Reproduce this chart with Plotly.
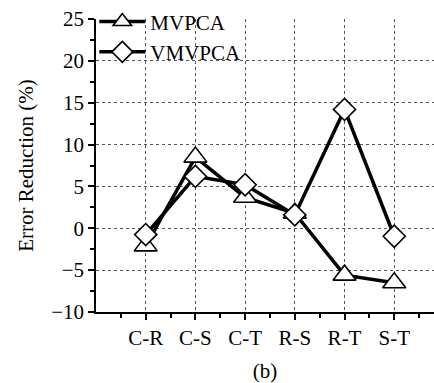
import plotly.graph_objects as go

categories = ["C-R", "C-S", "C-T", "R-S", "R-T", "S-T"]
mvpca = [-2.1, 8.5, 3.7, 1.8, -5.6, -6.5]
vmvpca = [-0.75, 6.2, 5.2, 1.6, 14.2, -0.95]
y_ticks = [-10, -5, 0, 5, 10, 15, 20, 25]
y_grid = [-5, 0, 5, 10, 15, 20]

xpos = list(range(len(categories)))
FONT = "Liberation Serif, Times New Roman, serif"

fig = go.Figure()
# empty helper trace so the grid-only overlay axis is drawn
fig.add_trace(go.Scatter(x=[None], y=[None], yaxis="y2", showlegend=False,
                         hoverinfo="skip", mode="lines"))
fig.add_trace(go.Scatter(
    x=xpos, y=mvpca, name="MVPCA", mode="lines+markers",
    line=dict(color="black", width=3.5),
    marker=dict(symbol="triangle-up", size=20, color="white",
                line=dict(color="black", width=1.6)),
))
fig.add_trace(go.Scatter(
    x=xpos, y=vmvpca, name="VMVPCA", mode="lines+markers",
    line=dict(color="black", width=3.5),
    marker=dict(symbol="diamond", size=17, color="white",
                line=dict(color="black", width=1.6)),
))

fig.update_layout(
    width=434, height=383,
    margin=dict(l=96, r=0, t=19, b=71),
    paper_bgcolor="white", plot_bgcolor="rgba(0,0,0,0)",
    font=dict(family=FONT, size=20, color="black"),
    showlegend=True,
    legend=dict(x=-0.005, y=1.06, xanchor="left", yanchor="top",
                bgcolor="rgba(0,0,0,0)", font=dict(size=21),
                itemwidth=46, tracegroupgap=0),
    xaxis=dict(
        range=[-1, 5.8], tickmode="array", tickvals=xpos, ticktext=categories,
        showgrid=True, gridcolor="#555", griddash="dot", gridwidth=1,
        zeroline=False, showline=True, linecolor="black", linewidth=1.5,
        ticks="outside", ticklen=6, tickcolor="black", tickwidth=1.5,
        minor=dict(tickmode="linear", tick0=-0.5, dtick=1, ticks="outside",
                   ticklen=4, tickcolor="black", tickwidth=1.5, showgrid=False),
        title=dict(text="(b)", font=dict(size=21), standoff=14),
        tickfont=dict(size=21),
    ),
    yaxis=dict(
        range=[-10, 25], tickmode="array", tickvals=y_ticks,
        showgrid=False, zeroline=False, showline=True, linecolor="black",
        linewidth=1.5, ticks="outside", ticklen=6, tickcolor="black",
        tickwidth=1.5,
        minor=dict(tickmode="linear", tick0=-7.5, dtick=5, ticks="outside",
                   ticklen=4, tickcolor="black", tickwidth=1.5, showgrid=False),
        title=dict(text="Error Reduction (%)", font=dict(size=21), standoff=12),
        tickfont=dict(size=21),
    ),
    yaxis2=dict(
        range=[-10, 25], overlaying="y", anchor="x", side="left",
        tickmode="array", tickvals=y_grid, showticklabels=False, ticks="",
        showgrid=True, gridcolor="#555", griddash="dot", gridwidth=1,
        zeroline=False, showline=False,
    ),
)

fig.write_html("out.html")
